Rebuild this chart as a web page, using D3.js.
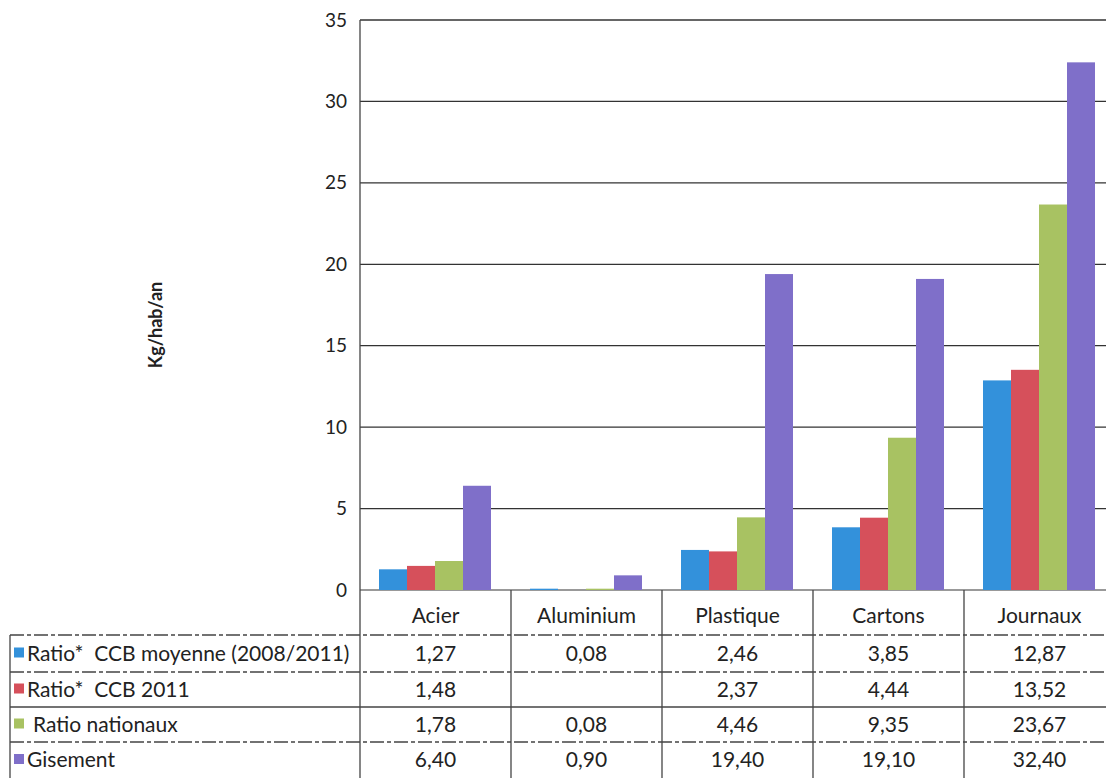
<!DOCTYPE html>
<html>
<head>
<meta charset="utf-8">
<script src="https://cdn.jsdelivr.net/npm/d3@7"></script>
<style>
  body { margin: 0; background: #fff; }
  svg { font-family: Lato, "Open Sans", sans-serif; }
  text { white-space: pre; }
</style>
</head>
<body>
<div id="chart"></div>
<script>
// data
const categories = ["Acier", "Aluminium", "Plastique", "Cartons", "Journaux"];
const seriesNames = ["Ratio*  CCB moyenne (2008/2011)", "Ratio*  CCB 2011", "Ratio nationaux", "Gisement"];
const ccbMoyenne = [1.27, 0.08, 2.46, 3.85, 12.87];
const ccb2011 = [1.48, null, 2.37, 4.44, 13.52];
const nationaux = [1.78, 0.08, 4.46, 9.35, 23.67];
const gisement = [6.40, 0.90, 19.40, 19.10, 32.40];
const yTicks = [0, 5, 10, 15, 20, 25, 30, 35];
const colors = ["#3391db", "#d6505b", "#a8c262", "#7f6fc9"];

const values = [ccbMoyenne, ccb2011, nationaux, gisement];
const W = 1106, H = 778;
const plotLeft = 360, bandW = 151, yTop = 20, yZero = 590;

const svg = d3.select("#chart").append("svg")
  .attr("width", W).attr("height", H);

const x = d3.scaleBand().domain(categories)
  .range([plotLeft, plotLeft + bandW * categories.length]);
const xs = d3.scaleBand().domain(d3.range(seriesNames.length))
  .range([19, 131]);
const y = d3.scaleLinear().domain([0, 35]).range([yZero, yTop]);

const fmt = v => v == null ? "" : d3.format(".2f")(v).replace(".", ",");

// grid lines
svg.append("g").selectAll("line")
  .data(yTicks)
  .join("line")
  .attr("x1", plotLeft).attr("x2", W)
  .attr("y1", d => y(d)).attr("y2", d => y(d))
  .attr("stroke", d => d === 0 ? "#777" : "#333")
  .attr("stroke-width", 1.3);

// y axis
const yAxis = d3.axisLeft(y).tickValues(yTicks).tickSize(0).tickPadding(13);
svg.append("g")
  .attr("transform", `translate(${plotLeft},0)`)
  .call(yAxis)
  .call(g => g.select(".domain").remove())
  .selectAll("text")
  .attr("font-size", 19)
  .attr("font-family", "Lato, 'Open Sans', sans-serif")
  .attr("fill", "#222");

svg.append("text")
  .attr("transform", `translate(162,325) rotate(-90)`)
  .attr("text-anchor", "middle")
  .attr("font-size", 18)
  .attr("font-weight", "bold")
  .attr("fill", "#222")
  .text("Kg/hab/an");

// bars
const groups = svg.append("g").selectAll("g")
  .data(values)
  .join("g")
  .attr("fill", (d, i) => colors[i]);

groups.selectAll("rect")
  .data((d, i) => d.map((v, j) => ({ s: i, c: categories[j], v: v })))
  .join("rect")
  .filter(d => d.v != null)
  .attr("x", d => x(d.c) + xs(d.s))
  .attr("width", xs.bandwidth())
  .attr("y", d => y(d.v))
  .attr("height", d => yZero - y(d.v));

// table
const rowY = [596, 635, 672, 707, 742, 778];
const tbl = svg.append("g").attr("stroke", "#444").attr("stroke-width", 1.3);

// vertical lines: axis + column separators
tbl.selectAll(".vcol")
  .data(categories.map(c => x(c)))
  .join("line")
  .attr("x1", d => d).attr("x2", d => d)
  .attr("y1", (d, i) => i === 0 ? yTop : yZero)
  .attr("y2", H);

// horizontal row lines
tbl.selectAll(".hrow")
  .data(rowY.slice(1, 5))
  .join("line")
  .attr("x1", 10).attr("x2", W)
  .attr("y1", d => d).attr("y2", d => d)
  .attr("stroke-dasharray", (d, i) => i === 2 ? null : "14,3,4,3");

tbl.append("line")
  .attr("x1", 10).attr("x2", 10)
  .attr("y1", rowY[1]).attr("y2", H);

// header
svg.append("g").selectAll("text")
  .data(categories)
  .join("text")
  .attr("x", d => x(d) + bandW / 2)
  .attr("y", (rowY[0] + rowY[1]) / 2 + 7)
  .attr("text-anchor", "middle")
  .attr("font-size", 21)
  .attr("fill", "#222")
  .text(d => d);

// legend column
const legend = svg.append("g").selectAll("g")
  .data(seriesNames)
  .join("g")
  .attr("transform", (d, i) => `translate(0,${(rowY[i + 1] + rowY[i + 2]) / 2})`);

legend.append("rect")
  .attr("x", 14).attr("y", -6)
  .attr("width", 10).attr("height", 10)
  .attr("fill", (d, i) => colors[i]);

legend.append("text")
  .attr("x", (d, i) => i === 2 ? 33 : 27)
  .attr("y", 7)
  .attr("font-size", 21)
  .attr("fill", "#222")
  .text(d => d);

// values
values.forEach((vals, i) => {
  svg.append("g").selectAll("text")
    .data(vals)
    .join("text")
    .attr("x", (d, j) => x(categories[j]) + bandW / 2)
    .attr("y", (rowY[i + 1] + rowY[i + 2]) / 2 + 7)
    .attr("text-anchor", "middle")
    .attr("font-size", 21)
    .attr("fill", "#222")
    .text(d => fmt(d));
});
</script>
</body>
</html>
